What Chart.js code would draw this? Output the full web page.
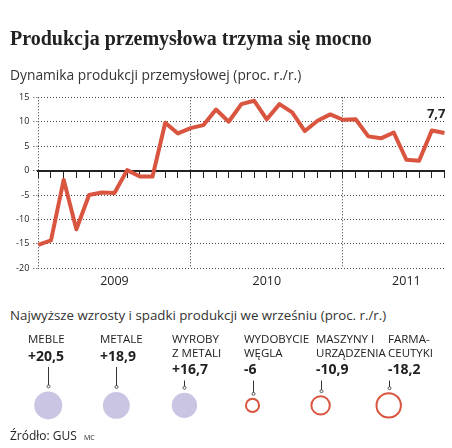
<!DOCTYPE html>
<html><head><meta charset="utf-8">
<script src="https://cdn.jsdelivr.net/npm/chart.js@4.4.1/dist/chart.umd.min.js"></script>
<style>
html,body{margin:0;padding:0;background:#fff;}
body{width:452px;height:448px;position:relative;overflow:hidden;font-family:'Open Sans',sans-serif;color:#222;}
.t{position:absolute;white-space:nowrap;}
#title{left:10px;top:28px;font:bold 20px 'Liberation Serif',serif;line-height:20px;color:#222;}
#sub1{left:10px;top:66px;font-size:13.8px;line-height:18px;color:#333;}
#sub2{left:10px;top:306px;font-size:13.3px;line-height:18px;color:#333;}
#src{left:10px;top:428px;font-size:12px;line-height:16px;color:#222;}
#src span{font-size:7px;margin-left:7px;}
canvas{position:absolute;left:0;}
#c1{top:0;}
#c2{top:330px;}
</style></head>
<body>
<canvas id="c1" width="452" height="300"></canvas>
<canvas id="c2" width="452" height="118"></canvas>
<div class="t" id="title">Produkcja przemysłowa trzyma się mocno</div>
<div class="t" id="sub1">Dynamika produkcji przemysłowej (proc. r./r.)</div>
<div class="t" id="sub2">Najwyższe wzrosty i spadki produkcji we wrześniu (proc. r./r.)</div>
<div class="t" id="src">Źródło: GUS<span>MC</span></div>
<script>
const months = ['2009-01','2009-02','2009-03','2009-04','2009-05','2009-06','2009-07','2009-08','2009-09','2009-10','2009-11','2009-12',
  '2010-01','2010-02','2010-03','2010-04','2010-05','2010-06','2010-07','2010-08','2010-09','2010-10','2010-11','2010-12',
  '2011-01','2011-02','2011-03','2011-04','2011-05','2011-06','2011-07','2011-08','2011-09'];
const production = [-15.2,-14.3,-1.9,-12.0,-5.0,-4.5,-4.6,0.1,-1.2,-1.2,9.8,7.6,
  8.7,9.3,12.5,10.0,13.6,14.3,10.5,13.6,11.9,8.1,10.2,11.5,
  10.4,10.5,7.0,6.6,7.8,2.2,2.0,8.2,7.7];
const yearTicks = ['2009','2010','2011'];
const yearTickMonths = ['2009-07','2010-07','2011-06'];
const yTicks = [-20,-15,-10,-5,0,5,10,15];

const sectors = ['MEBLE','METALE','WYROBY\nZ METALI','WYDOBYCIE\nWĘGLA','MASZYNY I\nURZĄDZENIA','FARMA-\nCEUTYKI'];
const sectorChange = [20.5,18.9,16.7,-6,-10.9,-18.2];

const RED = '#d9553f';
const LILAC = '#c9c5e3';
const INK = '#222';
const fmt = v => v.toString().replace('.', ',');

const lastLabel = {
  id:'lastLabel',
  afterDatasetsDraw(chart){
    const meta = chart.getDatasetMeta(0);
    const el = meta.data[meta.data.length-1];
    const ctx = chart.ctx;
    ctx.save();
    ctx.font = 'bold 13px "Open Sans"';
    ctx.fillStyle = INK; ctx.textAlign = 'right'; ctx.textBaseline = 'middle';
    ctx.fillText(production[production.length-1].toFixed(1).replace('.', ','), el.x + 1, el.y - 19);
    ctx.restore();
  }
};

new Chart(document.getElementById('c1'), {
  type:'line',
  data:{labels:months, datasets:[{data:production, borderColor:RED, borderWidth:4, pointRadius:0,
    tension:0, borderJoinStyle:'round', xAxisID:'x', yAxisID:'y'}]},
  options:{
    responsive:false, animation:false, events:[],
    layout:{padding:{top:97.3, right:7.5, left:0, bottom:0}},
    plugins:{legend:{display:false}, tooltip:{enabled:false}},
    scales:{
      x:{type:'category', position:'bottom', offset:false,
        border:{display:false, dash:[1,2]},
        grid:{color:c => (months[c.index] || '').endsWith('-01') ? '#333' : 'rgba(0,0,0,0)', lineWidth:1, drawTicks:false},
        ticks:{autoSkip:false, maxRotation:0, padding:6, color:INK, font:{family:'Open Sans', size:12.5},
          callback:(v,i) => { const k = yearTickMonths.indexOf(months[i]); return k >= 0 ? yearTicks[k] : ''; }},
        afterFit:s => { s.height = 31.7; }
      },
      x2:{type:'category', position:{y:0}, offset:false,
        border:{display:true, color:INK, width:2},
        grid:{drawOnChartArea:false, drawTicks:true, tickLength:6, tickColor:INK, tickWidth:1},
        ticks:{display:false, autoSkip:false}
      },
      y:{type:'linear', min:-20, max:15,
        afterBuildTicks:s => { s.ticks = yTicks.map(v => ({value:v})); },
        border:{display:false, dash:[1,2]},
        grid:{color:c => c.tick && c.tick.value === 0 ? 'rgba(0,0,0,0)' : '#444', tickLength:5,
          tickColor:c => c.tick && c.tick.value === 0 ? INK : '#444', tickBorderDash:[1,2]},
        ticks:{padding:4, color:INK, font:{family:'Open Sans', size:9}},
        afterFit:s => { s.width = 38.3; }
      }
    }
  },
  plugins:[lastLabel]
});

const maxAbs = Math.max(...sectorChange.map(Math.abs));
const labelStart = 28, labelStep = 72;
const sectorLabels = {
  id:'sectorLabels',
  afterDatasetsDraw(chart){
    const ctx = chart.ctx;
    const meta = chart.getDatasetMeta(0);
    meta.data.forEach((el, i) => {
      const lines = sectors[i].split('\n');
      const left = labelStart + i * labelStep;
      ctx.save();
      ctx.fillStyle = INK; ctx.textAlign = 'left'; ctx.textBaseline = 'middle';
      ctx.font = '11.5px "Open Sans"';
      lines.forEach((ln, k) => ctx.fillText(ln, left, 10 + k * 13.5));
      const vy = 10 + (lines.length - 1) * 13.5 + 17;
      ctx.font = 'bold 14px "Open Sans"';
      const v = sectorChange[i];
      ctx.fillText((v > 0 ? '+' : '') + fmt(v), left, vy);
      const r = el.options.radius;
      const yTop = vy + 10, yBot = el.y - r - 5;
      const lx = Math.round(el.x) + 0.5;
      ctx.strokeStyle = '#333'; ctx.lineWidth = 1;
      ctx.beginPath(); ctx.moveTo(lx, yTop); ctx.lineTo(lx, yBot); ctx.stroke();
      ctx.beginPath(); ctx.arc(lx, yBot, 1.5, 0, Math.PI * 2);
      ctx.fillStyle = '#fff'; ctx.fill(); ctx.lineWidth = 0.8; ctx.stroke();
      ctx.restore();
    });
  }
};

new Chart(document.getElementById('c2'), {
  type:'bubble',
  data:{labels:sectors, datasets:[{
    data:sectors.map((s, i) => ({x:s, y:0, r:14 * Math.sqrt(Math.abs(sectorChange[i]) / maxAbs) - (sectorChange[i] < 0 ? 1 : 0)})),
    backgroundColor:sectorChange.map(v => v > 0 ? LILAC : '#fff'),
    borderColor:sectorChange.map(v => v > 0 ? 'rgba(0,0,0,0)' : RED),
    borderWidth:sectorChange.map(v => v > 0 ? 0 : 2)
  }]},
  options:{
    responsive:false, animation:false, events:[],
    layout:{padding:{left:11.75, right:29.25, top:47, bottom:11}},
    plugins:{legend:{display:false}, tooltip:{enabled:false}},
    scales:{
      x:{type:'category', offset:true, display:false},
      y:{type:'linear', min:-1, max:1, display:false}
    }
  },
  plugins:[sectorLabels]
});
</script>
</body></html>
